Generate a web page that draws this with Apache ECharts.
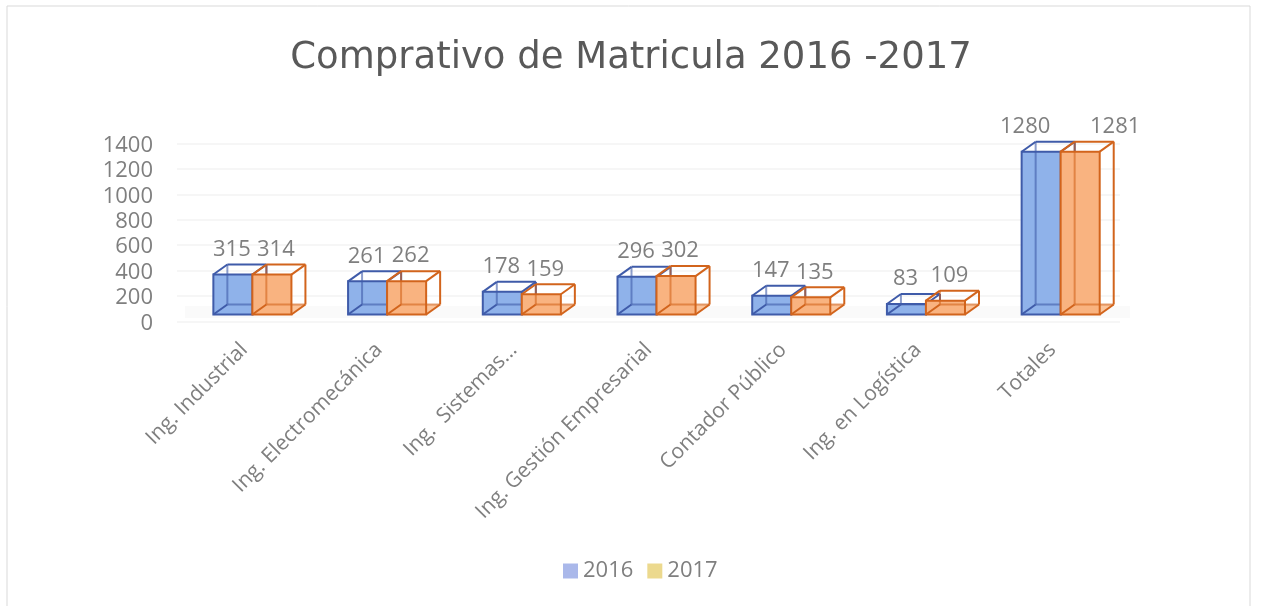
<!DOCTYPE html>
<html>
<head>
<meta charset="utf-8">
<style>html,body{margin:0;padding:0;background:#fff}#chart{width:1262px;height:606px}</style>
<script src="https://cdn.jsdelivr.net/npm/echarts@6/dist/echarts.min.js"></script>
</head>
<body>
<div id="chart"></div>
<script>
var categories = ['Ing. Industrial', 'Ing. Electromecánica', 'Ing.  Sistemas...', 'Ing. Gestión Empresarial', 'Contador Público', 'Ing. en Logística', 'Totales'];
var values2016 = [315, 261, 178, 296, 147, 83, 1280];
var values2017 = [314, 262, 159, 302, 135, 109, 1281];

/* fake 3D look of the excel chart */
var depthX = 14, depthY = 10, floorUp = 7, lastIndex = categories.length - 1;

function boxRenderer(frontOffset, fill, floorFill, stroke, lastLabelShift) {
	return function (params, api) {
		var i = api.value(0);
		var top = api.coord([i, api.value(1)]);
		var base = api.coord([i, 0]);
		var w = api.size([1, 0])[0] * 0.29;
		var x0 = top[0] + frontOffset, x1 = x0 + w;
		var y0 = top[1] - floorUp, y1 = base[1] - floorUp;
		var bx0 = x0 + depthX, bx1 = x1 + depthX, by0 = y0 - depthY, by1 = y1 - depthY;
		var edge = function (a, b, c, d, opacity) {
			return {
				type: 'line',
				shape: { x1: a, y1: b, x2: c, y2: d },
				style: { stroke: stroke, lineWidth: 2, opacity: opacity || 1 }
			};
		};
		var labelX = x0 + w / 2 + (i === lastIndex ? lastLabelShift : (frontOffset > 0 ? 4 : -1));
		return {
			type: 'group',
			children: [
				{ type: 'polygon', shape: { points: [[x0, y1], [x1, y1], [bx1, by1], [bx0, by1]] }, style: { fill: floorFill } },
				{ type: 'rect', shape: { x: x0, y: y0, width: w, height: y1 - y0 }, style: { fill: fill } },
				edge(bx0, by0, bx0, by1, 0.6),
				edge(bx0, by1, bx1, by1, 0.6),
				edge(x0, y0, bx0, by0),
				edge(x1, y0, bx1, by0),
				edge(bx0, by0, bx1, by0),
				edge(bx1, by0, bx1, by1),
				edge(x0, y1, bx0, by1),
				edge(x1, y1, bx1, by1),
				{ type: 'rect', shape: { x: x0, y: y0, width: w, height: y1 - y0 }, style: { fill: 'none', stroke: stroke, lineWidth: 2 } },
				{
					type: 'text',
					style: {
						text: String(api.value(1)),
						x: labelX,
						y: y0 - 25,
						align: 'center',
						verticalAlign: 'middle',
						fill: '#7f7f7f',
						font: '22px "Open Sans"'
					}
				}
			]
		};
	};
}

function toPairs(arr) {
	return arr.map(function (v, i) { return [i, v]; });
}

var chart = echarts.init(document.getElementById('chart'));
chart.setOption({
	animation: false,
	backgroundColor: '#fff',
	title: {
		text: 'Comprativo de Matricula 2016 -2017',
		left: 'center',
		top: 35,
		textStyle: { fontFamily: 'DejaVu Sans', fontSize: 37, fontWeight: 'normal', color: '#595959' }
	},
	legend: {
		left: 558,
		top: 555,
		itemWidth: 15,
		itemHeight: 15,
		itemGap: 14,
		textStyle: { fontFamily: 'Open Sans', fontSize: 22, color: '#7f7f7f' },
		data: [
			{ name: '2016', icon: 'rect', itemStyle: { color: '#aab8ea' } },
			{ name: '2017', icon: 'rect', itemStyle: { color: '#ecd98e' } }
		]
	},
	grid: { left: 177, right: 142, top: 143.5, bottom: 284.5 },
	xAxis: {
		type: 'category',
		data: categories,
		axisLine: { show: false },
		axisTick: { show: false },
		axisLabel: { interval: 0, rotate: 45, margin: 25, color: '#7f7f7f', fontFamily: 'Open Sans', fontSize: 21 }
	},
	yAxis: {
		type: 'value',
		min: 0,
		max: 1400,
		interval: 200,
		axisLabel: {
			margin: 24,
			formatter: function (v) { return '{n|' + v + '}'; },
			rich: {
				n: { color: '#7f7f7f', fontFamily: 'Open Sans', fontSize: 22, padding: [4, 0, 0, 0] }
			}
		},
		splitLine: { lineStyle: { color: '#f6f6f6', width: 2 } }
	},
	graphic: [
		{ type: 'rect', silent: true, z: -1, shape: { x: 7, y: 6, width: 1243, height: 640 }, style: { fill: 'none', stroke: '#d9d9d9', lineWidth: 1 } },
		{ type: 'rect', silent: true, z: -1, shape: { x: 185, y: 306, width: 945, height: 12 }, style: { fill: '#fafafa' } }
	],
	series: [
		{
			name: '2016',
			type: 'custom',
			data: toPairs(values2016),
			encode: { x: 0, y: 1 },
			clip: false,
			renderItem: boxRenderer(-31, '#8fb2ea', '#a9c3ee', '#3f5ba9', -16)
		},
		{
			name: '2017',
			type: 'custom',
			data: toPairs(values2017),
			encode: { x: 0, y: 1 },
			clip: false,
			renderItem: boxRenderer(8, '#f9b380', '#fbc59c', '#d2641c', 35)
		}
	]
});
</script>
</body>
</html>
